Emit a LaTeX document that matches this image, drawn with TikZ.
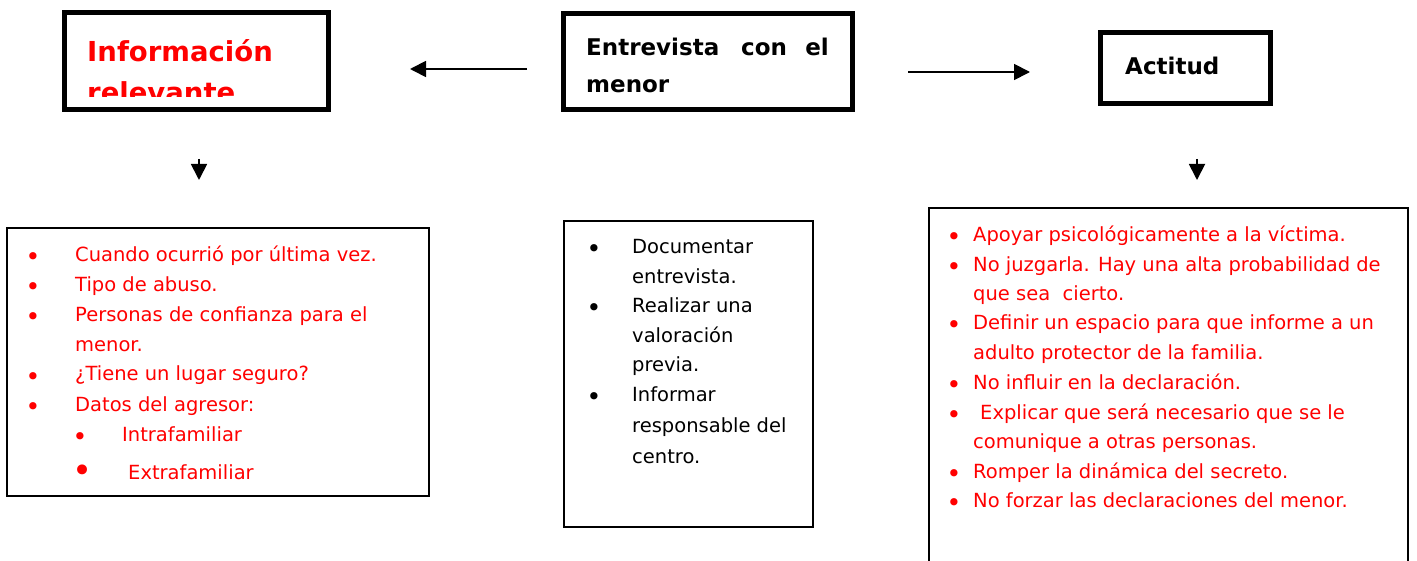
\documentclass[tikz,border=0pt]{standalone}
\usepackage{fontspec}
\setmainfont{DejaVu Sans}
\usetikzlibrary{arrows.meta}
\begin{document}
\begin{tikzpicture}[x=1pt,y=-1pt,
  thickbox/.style={draw,line width=5pt,inner sep=0pt},
  thinbox/.style={draw,line width=2pt,inner sep=0pt},
  conn/.style={line width=1.8pt,-{Triangle[length=16pt,width=16pt]}},
  body/.style={anchor=base west,inner sep=0pt,font=\fontsize{19.5}{30}\selectfont},
  redbody/.style={body,text=red},
  bul/.style={anchor=base,inner sep=0pt,font=\fontsize{25}{30}\selectfont},
  redbul/.style={bul,text=red},
  title/.style={anchor=base west,inner sep=0pt,font=\bfseries\fontsize{23}{30}\selectfont},
  bigtitle/.style={anchor=base west,inner sep=0pt,text=red,font=\bfseries\fontsize{27.5}{41}\selectfont}]
\useasboundingbox (0,0) rectangle (1417,561);
\fill[white] (0,0) rectangle (1417,561);

% top boxes
\node[thickbox,minimum width=264pt,minimum height=97pt] (info) at (196.5,61) {};
\node[thickbox,minimum width=289pt,minimum height=96pt] (entre) at (708,61.5) {};
\node[thickbox,minimum width=170pt,minimum height=71pt] (acti) at (1185.5,68) {};

\begin{scope}
  \clip (67,15) rectangle (326,97);
  \node[bigtitle] (infoA) at (87,62) {Información};
  \node[bigtitle] (infoB) at (87,103) {relevante};
\end{scope}

\node[title] (entA) at (586,56) {Entrevista};
\node[title] (entB) at (741,56) {con};
\node[title,anchor=base east] (entC) at (829,56) {el};
\node[title] (entD) at (586,93) {menor};
\node[title] (actA) at (1125,75) {Actitud};

% connectors
\coordinate (l1) at (527,69);
\coordinate (l2) at (410,69);
\coordinate (r1) at (908,72);
\coordinate (r2) at (1030,72);
\coordinate (d1) at (199,159);
\coordinate (d2) at (199,180);
\coordinate (e1) at (1197,159);
\coordinate (e2) at (1197,180);
\draw[conn] (l1) -- (l2);
\draw[conn] (r1) -- (r2);
\draw[conn] (d1) -- (d2);
\draw[conn] (e1) -- (e2);

% lower boxes
\node[thinbox,minimum width=422pt,minimum height=268pt] (left) at (218,362) {};
\node[thinbox,minimum width=249pt,minimum height=306pt] (mid) at (688.5,374) {};
\draw[line width=2pt] (929,562) -- (929,208) -- (1408,208) -- (1408,562);

% left list
\node[redbul] (lb1) at (33,266) {\textbullet};
\node[redbul] (lb2) at (33,296) {\textbullet};
\node[redbul] (lb3) at (33,326) {\textbullet};
\node[redbul] (lb5) at (33,385) {\textbullet};
\node[redbul] (lb6) at (33,415) {\textbullet};
\node[redbul] (lb7) at (80,445) {\textbullet};
\node[redbul,font=\fontsize{34}{30}\selectfont] (lb8) at (83,482) {\textbullet};
\node[redbody] (lt1) at (75,262) {Cuando ocurrió por última vez.};
\node[redbody] (lt2) at (75,292) {Tipo de abuso.};
\node[redbody] (lt3) at (75,322) {Personas de confianza para el};
\node[redbody] (lt4) at (75,352) {menor.};
\node[redbody] (lt5) at (75,381) {¿Tiene un lugar seguro?};
\node[redbody] (lt6) at (75,411) {Datos del agresor:};
\node[redbody] (lt7) at (122,441) {Intrafamiliar};
\node[redbody] (lt8) at (128,479) {Extrafamiliar};

% middle list
\node[bul] (mb1) at (594,258) {\textbullet};
\node[bul] (mb3) at (594,317) {\textbullet};
\node[bul] (mb6) at (594,406) {\textbullet};
\node[body] (mt1) at (632,254) {Documentar};
\node[body] (mt2) at (632,284) {entrevista.};
\node[body] (mt3) at (632,313) {Realizar una};
\node[body] (mt4) at (632,343) {valoración};
\node[body] (mt5) at (632,372) {previa.};
\node[body] (mt6) at (632,402) {Informar};
\node[body] (mt7) at (632,432) {responsable del};
\node[body] (mt8) at (632,463) {centro.};

% right list
\node[redbul] (rb1) at (954,246) {\textbullet};
\node[redbul] (rb2) at (954,276) {\textbullet};
\node[redbul] (rb4) at (954,334) {\textbullet};
\node[redbul] (rb6) at (954,393) {\textbullet};
\node[redbul] (rb7) at (954,423) {\textbullet};
\node[redbul] (rb9) at (954,482) {\textbullet};
\node[redbul] (rb10) at (954,511) {\textbullet};
\node[redbody] (rt1) at (973,242) {Apoyar psicológicamente a la víctima.};
\node[redbody] (rt2) at (973,272) {No juzgarla. Hay una alta probabilidad de};
\node[redbody] (rt3) at (973,301) {que sea\ \ cierto.};
\node[redbody] (rt4) at (973,330) {Definir un espacio para que informe a un};
\node[redbody] (rt5) at (973,360) {adulto protector de la familia.};
\node[redbody] (rt6) at (973,389) {No influir en la declaración.};
\node[redbody] (rt7) at (980,419) {Explicar que será necesario que se le};
\node[redbody] (rt8) at (973,448) {comunique a otras personas.};
\node[redbody] (rt9) at (973,478) {Romper la dinámica del secreto.};
\node[redbody] (rt10) at (973,507) {No forzar las declaraciones del menor.};
\end{tikzpicture}
\end{document}
